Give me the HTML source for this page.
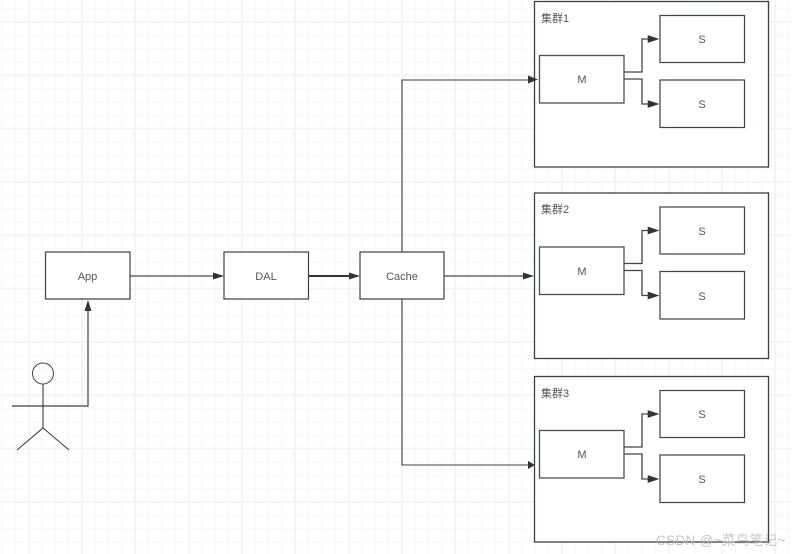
<!DOCTYPE html>
<html><head><meta charset="utf-8"><style>html,body{margin:0;padding:0;background:#fff}svg{display:block}text{font-family:"Liberation Sans","Noto Sans CJK SC",sans-serif;fill:#555;font-size:11px}</style></head><body>
<svg width="792" height="554" viewBox="0 0 792 554" xmlns="http://www.w3.org/2000/svg">
<defs>
<pattern id="g" width="13.333" height="13.333" patternUnits="userSpaceOnUse" x="8.63" y="2.03"><path d="M6.667 0V13.333M0 6.667H13.333" stroke="#f9f9f9" stroke-width="1.5" fill="none"/></pattern>
<pattern id="G" width="53.333" height="53.333" patternUnits="userSpaceOnUse" x="2.03" y="-4.67"><path d="M26.667 0V53.333M0 26.667H53.333" stroke="#f3f3f3" stroke-width="1.7" fill="none"/></pattern>
<g id="c" stroke="#39414a" fill="none">
<rect x="534.5" y="1.5" width="234" height="165.500" fill="#fff" stroke-width="1.300"/>
<rect x="539.5" y="55.500" width="84.500" height="47.500" fill="#fff" stroke="#4a5055" stroke-width="1.300"/>
<rect x="660" y="15.500" width="84.500" height="47" fill="#fff" stroke-width="1.200"/>
<rect x="660" y="80" width="84.500" height="47.500" fill="#fff" stroke-width="1.200"/>
<path d="M624.5 72H642V39H652M624.5 79H642V104H652" stroke="#444" stroke-width="1.300"/>
<path d="M648 35.500l10.500 3.500-10.500 3.500zM648 100.500l10.500 3.500-10.500 3.500z" fill="#333" stroke="#333" stroke-width=".6"/>
</g>
</defs>
<rect width="792" height="554" fill="#fff"/>
<rect width="792" height="554" fill="url(#g)"/>
<rect width="792" height="554" fill="url(#G)"/>
<use href="#c"/><use href="#c" y="191.5"/><use href="#c" y="375"/>
<g fill="none" stroke="#39414a" stroke-width="1.200">
<rect x="45.5" y="252" width="84.500" height="47" fill="#fff"/>
<rect x="224" y="252" width="84.500" height="47" fill="#fff"/>
<rect x="360" y="252" width="84" height="47" fill="#fff"/>
<circle cx="43" cy="373.500" r="10.500" stroke-width="1"/>
<path d="M43 384V428M17 450L43 428L69 450" stroke-width="1.100"/>
<path d="M12 406H88V306" stroke-width="1.200"/>
<path d="M130 276H218M444 276H528" stroke="#4a4a4a" stroke-width="1.300"/>
<path d="M308.500 276H354" stroke="#333" stroke-width="2"/>
<path d="M402 252V80H530M402 299V465H530" stroke-width="1.100"/>
</g>
<path d="M88 300l-3.500 11h7zM224 276l-11-3.500v7zM360 276l-11-3.500v7zM534 276l-11-3.500v7zM538 79.500l-10-4v8zM535 465l-7-4v8z" fill="#333"/>
<text x="87.500" y="280" text-anchor="middle">App</text>
<text x="266" y="280" text-anchor="middle">DAL</text>
<text x="402" y="280" text-anchor="middle">Cache</text>
<text x="582" y="83" text-anchor="middle">M</text><text x="582" y="275" text-anchor="middle">M</text><text x="582" y="458" text-anchor="middle">M</text>
<text x="702" y="43" text-anchor="middle">S</text><text x="702" y="108" text-anchor="middle">S</text>
<text x="702" y="235" text-anchor="middle">S</text><text x="702" y="300" text-anchor="middle">S</text>
<text x="702" y="418" text-anchor="middle">S</text><text x="702" y="483" text-anchor="middle">S</text>
<text x="541" y="22">集群1</text><text x="541" y="213">集群2</text><text x="541" y="397">集群3</text>
<text x="656" y="545" style="font-size:13.500px;letter-spacing:.35px;fill:#bbb;fill-opacity:.85">CSDN @~菜鸟笔记~</text>
</svg></body></html>
